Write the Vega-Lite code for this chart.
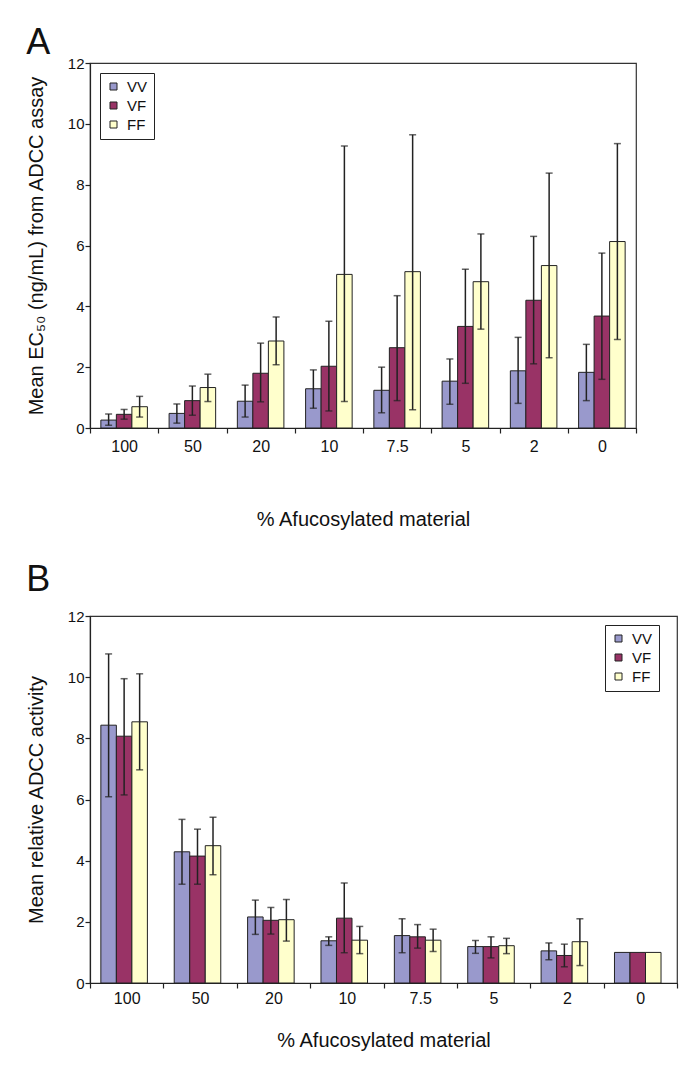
{
  "$schema": "https://vega.github.io/schema/vega-lite/v6.json",
  "background": "white",
  "padding": {"left": 25, "top": 24, "right": 5, "bottom": 5},
  "spacing": 31,
  "config": {
    "font": "Liberation Sans",
    "view": {"stroke": "#333", "strokeWidth": 1.2},
    "axis": {"grid": false, "labelColor": "#111", "titleColor": "#111", "domainColor": "#222", "tickColor": "#222", "titleFontWeight": "normal", "domainWidth": 1.2, "tickWidth": 1.2},
    "legend": {"strokeColor": "#222", "fillColor": "white", "padding": 6, "symbolType": "square", "symbolSize": 49, "symbolStrokeColor": "#222", "symbolStrokeWidth": 1, "labelFontSize": 15, "labelColor": "#111", "rowPadding": 3, "labelOffset": 6},
    "title": {"fontSize": 36, "fontWeight": "normal", "anchor": "start", "frame": "bounds", "color": "#111"}
  },
  "datasets": {
    "a": [
      {"pct": "100", "geno": "VV", "mean": 0.26, "lo": 0.09, "hi": 0.46},
      {"pct": "100", "geno": "VF", "mean": 0.45, "lo": 0.29, "hi": 0.61},
      {"pct": "100", "geno": "FF", "mean": 0.70, "lo": 0.36, "hi": 1.04},
      {"pct": "50", "geno": "VV", "mean": 0.48, "lo": 0.16, "hi": 0.79},
      {"pct": "50", "geno": "VF", "mean": 0.90, "lo": 0.42, "hi": 1.38},
      {"pct": "50", "geno": "FF", "mean": 1.33, "lo": 0.87, "hi": 1.77},
      {"pct": "20", "geno": "VV", "mean": 0.88, "lo": 0.36, "hi": 1.41},
      {"pct": "20", "geno": "VF", "mean": 1.80, "lo": 0.86, "hi": 2.79},
      {"pct": "20", "geno": "FF", "mean": 2.86, "lo": 2.08, "hi": 3.65},
      {"pct": "10", "geno": "VV", "mean": 1.29, "lo": 0.65, "hi": 1.91},
      {"pct": "10", "geno": "VF", "mean": 2.03, "lo": 0.56, "hi": 3.51},
      {"pct": "10", "geno": "FF", "mean": 5.05, "lo": 0.87, "hi": 9.27},
      {"pct": "7.5", "geno": "VV", "mean": 1.24, "lo": 0.50, "hi": 2.00},
      {"pct": "7.5", "geno": "VF", "mean": 2.64, "lo": 0.90, "hi": 4.35},
      {"pct": "7.5", "geno": "FF", "mean": 5.14, "lo": 0.60, "hi": 9.64},
      {"pct": "5", "geno": "VV", "mean": 1.54, "lo": 0.78, "hi": 2.27},
      {"pct": "5", "geno": "VF", "mean": 3.34, "lo": 1.47, "hi": 5.22},
      {"pct": "5", "geno": "FF", "mean": 4.81, "lo": 3.25, "hi": 6.38},
      {"pct": "2", "geno": "VV", "mean": 1.88, "lo": 0.81, "hi": 2.98},
      {"pct": "2", "geno": "VF", "mean": 4.20, "lo": 2.11, "hi": 6.30},
      {"pct": "2", "geno": "FF", "mean": 5.34, "lo": 2.31, "hi": 8.38},
      {"pct": "0", "geno": "VV", "mean": 1.83, "lo": 0.90, "hi": 2.75},
      {"pct": "0", "geno": "VF", "mean": 3.68, "lo": 1.60, "hi": 5.75},
      {"pct": "0", "geno": "FF", "mean": 6.13, "lo": 2.91, "hi": 9.35}
    ],
    "b": [
      {"pct": "100", "geno": "VV", "mean": 8.43, "lo": 6.09, "hi": 10.76},
      {"pct": "100", "geno": "VF", "mean": 8.07, "lo": 6.15, "hi": 9.95},
      {"pct": "100", "geno": "FF", "mean": 8.54, "lo": 6.97, "hi": 10.11},
      {"pct": "50", "geno": "VV", "mean": 4.29, "lo": 3.23, "hi": 5.35},
      {"pct": "50", "geno": "VF", "mean": 4.15, "lo": 3.23, "hi": 5.03},
      {"pct": "50", "geno": "FF", "mean": 4.49, "lo": 3.54, "hi": 5.42},
      {"pct": "20", "geno": "VV", "mean": 2.16, "lo": 1.59, "hi": 2.71},
      {"pct": "20", "geno": "VF", "mean": 2.05, "lo": 1.60, "hi": 2.47},
      {"pct": "20", "geno": "FF", "mean": 2.07, "lo": 1.37, "hi": 2.73},
      {"pct": "10", "geno": "VV", "mean": 1.38, "lo": 1.23, "hi": 1.51},
      {"pct": "10", "geno": "VF", "mean": 2.12, "lo": 0.99, "hi": 3.27},
      {"pct": "10", "geno": "FF", "mean": 1.40, "lo": 0.96, "hi": 1.85},
      {"pct": "7.5", "geno": "VV", "mean": 1.55, "lo": 0.99, "hi": 2.10},
      {"pct": "7.5", "geno": "VF", "mean": 1.51, "lo": 1.14, "hi": 1.91},
      {"pct": "7.5", "geno": "FF", "mean": 1.40, "lo": 1.03, "hi": 1.76},
      {"pct": "5", "geno": "VV", "mean": 1.19, "lo": 0.97, "hi": 1.39},
      {"pct": "5", "geno": "VF", "mean": 1.19, "lo": 0.82, "hi": 1.51},
      {"pct": "5", "geno": "FF", "mean": 1.22, "lo": 0.96, "hi": 1.46},
      {"pct": "2", "geno": "VV", "mean": 1.05, "lo": 0.76, "hi": 1.31},
      {"pct": "2", "geno": "VF", "mean": 0.90, "lo": 0.53, "hi": 1.27},
      {"pct": "2", "geno": "FF", "mean": 1.35, "lo": 0.57, "hi": 2.10},
      {"pct": "0", "geno": "VV", "mean": 1.00},
      {"pct": "0", "geno": "VF", "mean": 1.00},
      {"pct": "0", "geno": "FF", "mean": 1.00}
    ]
  },
  "vconcat": [
    {
      "title": {"text": "A", "offset": -6},
      "width": 546,
      "height": 365,
      "data": {"name": "a"},
      "encoding": {
        "x": {"field": "pct", "type": "nominal", "sort": ["100", "50", "20", "10", "7.5", "5", "2", "0"], "scale": {"paddingInner": 0, "paddingOuter": 0}, "title": "% Afucosylated material",
          "axis": {"labelAngle": 0, "tickBand": "extent", "labelFontSize": 16, "titleFontSize": 20, "titlePadding": 55, "labelPadding": 5, "tickSize": 5}},
        "xOffset": {"field": "geno", "type": "nominal", "sort": ["VV", "VF", "FF"], "scale": {"paddingInner": 0, "paddingOuter": 0.7}}
      },
      "layer": [
        {
          "mark": {"type": "bar", "stroke": "#222", "strokeWidth": 1},
          "encoding": {
            "y": {"field": "mean", "type": "quantitative", "scale": {"domain": [0, 12]}, "title": "Mean EC₅₀ (ng/mL) from ADCC assay",
              "axis": {"values": [0, 2, 4, 6, 8, 10, 12], "labelFontSize": 15, "titleFontSize": 20, "titlePadding": 21, "tickSize": 5, "labelPadding": 1}},
            "color": {"field": "geno", "type": "nominal", "sort": ["VV", "VF", "FF"], "scale": {"domain": ["VV", "VF", "FF"], "range": ["#9999CC", "#993366", "#FFFFCC"]},
              "legend": {"title": null, "orient": "none", "legendX": 10, "legendY": 10}}
          }
        },
        {
          "mark": {"type": "rule", "color": "#222", "strokeWidth": 1.5},
          "encoding": {
            "y": {"field": "lo", "type": "quantitative", "title": "Mean EC₅₀ (ng/mL) from ADCC assay"},
            "y2": {"field": "hi"}
          }
        },
        {
          "mark": {"type": "tick", "color": "#222", "thickness": 1.5, "size": 7},
          "encoding": {"y": {"field": "lo", "type": "quantitative", "title": "Mean EC₅₀ (ng/mL) from ADCC assay"}}
        },
        {
          "mark": {"type": "tick", "color": "#222", "thickness": 1.5, "size": 7},
          "encoding": {"y": {"field": "hi", "type": "quantitative", "title": "Mean EC₅₀ (ng/mL) from ADCC assay"}}
        }
      ]
    },
    {
      "title": {"text": "B", "offset": 10},
      "width": 587,
      "height": 367,
      "data": {"name": "b"},
      "encoding": {
        "x": {"field": "pct", "type": "nominal", "sort": ["100", "50", "20", "10", "7.5", "5", "2", "0"], "scale": {"paddingInner": 0, "paddingOuter": 0}, "title": "% Afucosylated material",
          "axis": {"labelAngle": 0, "tickBand": "extent", "labelFontSize": 16, "titleFontSize": 20, "titlePadding": 24, "labelPadding": 2, "tickSize": 5}},
        "xOffset": {"field": "geno", "type": "nominal", "sort": ["VV", "VF", "FF"], "scale": {"paddingInner": 0, "paddingOuter": 0.78}}
      },
      "layer": [
        {
          "mark": {"type": "bar", "stroke": "#222", "strokeWidth": 1},
          "encoding": {
            "y": {"field": "mean", "type": "quantitative", "scale": {"domain": [0, 12]}, "title": "Mean relative ADCC activity",
              "axis": {"values": [0, 2, 4, 6, 8, 10, 12], "labelFontSize": 15, "titleFontSize": 20, "titlePadding": 21, "tickSize": 5, "labelPadding": 1}},
            "color": {"field": "geno", "type": "nominal", "sort": ["VV", "VF", "FF"], "scale": {"domain": ["VV", "VF", "FF"], "range": ["#9999CC", "#993366", "#FFFFCC"]},
              "legend": {"title": null, "orient": "none", "legendX": 515, "legendY": 9}}
          }
        },
        {
          "mark": {"type": "rule", "color": "#222", "strokeWidth": 1.5},
          "encoding": {
            "y": {"field": "lo", "type": "quantitative", "title": "Mean relative ADCC activity"},
            "y2": {"field": "hi"}
          }
        },
        {
          "mark": {"type": "tick", "color": "#222", "thickness": 1.5, "size": 7},
          "encoding": {"y": {"field": "lo", "type": "quantitative", "title": "Mean relative ADCC activity"}}
        },
        {
          "mark": {"type": "tick", "color": "#222", "thickness": 1.5, "size": 7},
          "encoding": {"y": {"field": "hi", "type": "quantitative", "title": "Mean relative ADCC activity"}}
        }
      ]
    }
  ],
  "resolve": {"scale": {"color": "independent"}}
}
